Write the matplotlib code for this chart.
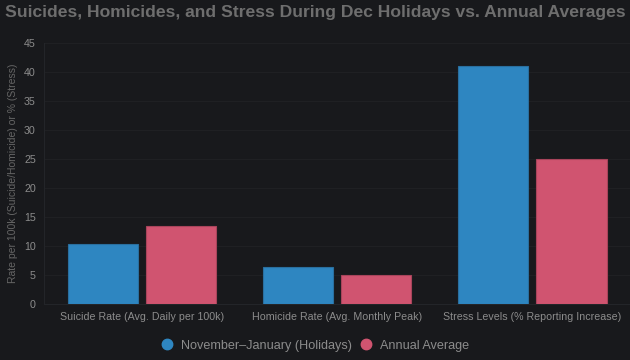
import numpy as np
import matplotlib
matplotlib.use('Agg')
import matplotlib.pyplot as plt
from matplotlib.lines import Line2D

categories = ['Suicide Rate (Avg. Daily per 100k)',
              'Homicide Rate (Avg. Monthly Peak)',
              'Stress Levels (% Reporting Increase)']
holidays = [10.4, 6.4, 41.0]
annual = [13.4, 4.9, 25.0]
series_names = ['November\u2013January (Holidays)', 'Annual Average']

bg = '#18191c'
blue = '#2e86c1'
pink = '#d05470'
txt = '#8c8c8c'

plt.rcParams['font.family'] = ['Liberation Sans', 'DejaVu Sans']

fig = plt.figure(figsize=(6.3, 3.6), dpi=100, facecolor=bg)
ax = fig.add_axes([0.07, 0.156, 0.93, 0.724], facecolor=bg)

x = np.arange(len(categories))
w = 0.36
ax.bar(x - 0.2, holidays, w, color=blue, edgecolor='#2a6f9e', linewidth=0.8, zorder=3)
ax.bar(x + 0.2, annual, w, color=pink, edgecolor='#a8445b', linewidth=0.8, zorder=3)

ax.set_xlim(-0.5, 2.5)
ax.set_ylim(0, 45)
ax.set_yticks(range(0, 46, 5))
ax.set_xticks(x)
ax.set_xticklabels(categories)
ax.tick_params(colors=txt, labelsize=7.7, length=0, pad=6)
ax.grid(axis='y', color='#1f2023', linewidth=0.8, zorder=0)
for s in ['top', 'right']:
    ax.spines[s].set_visible(False)
ax.spines['left'].set_color('#232529')
ax.spines['bottom'].set_color('#232529')

ax.set_ylabel('Rate per 100k (Suicide/Homicide) or % (Stress)', color='#666666', fontsize=7.5, labelpad=4)

fig.suptitle('Suicides, Homicides, and Stress During Dec Holidays vs. Annual Averages',
             x=0.5, y=0.985, color='#6e6e6e', fontsize=12.6, fontweight='bold')

handles = [Line2D([], [], marker='o', linestyle='', markersize=7.5, color=c) for c in (blue, pink)]
fig.legend(handles, series_names, loc='center', bbox_to_anchor=(0.5, 0.04), ncol=2,
           frameon=False, fontsize=9.1, labelcolor=txt, handletextpad=0.6, columnspacing=0.6,
           handlelength=1.0)

fig.savefig('out.png', dpi=100, facecolor=bg)
